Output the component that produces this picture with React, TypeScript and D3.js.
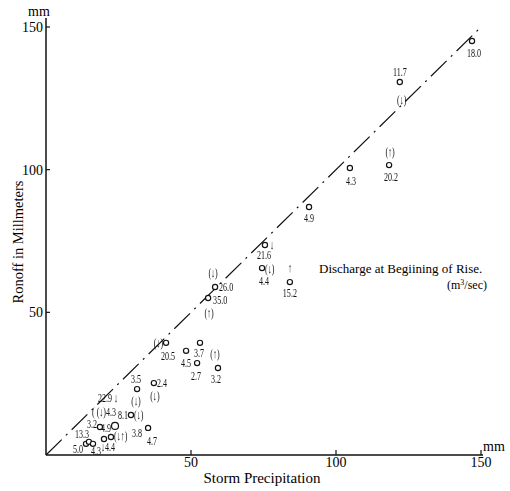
import React from 'react'
import * as d3 from 'd3'

// storm precipitation (mm) and runoff (mm)
const precip = [146.9, 122.0, 118.3, 104.8, 90.7, 75.5, 74.5, 84.1, 58.3, 55.9, 41.4, 48.3, 53.1, 52.1, 59.3, 37.2, 31.4, 29.3, 23.8, 18.6, 20.0, 22.4, 35.2, 13.8, 14.8, 16.2]
const runoff = [145.1, 130.7, 101.6, 100.6, 86.9, 73.6, 65.5, 60.6, 58.9, 55.0, 39.3, 36.5, 39.3, 32.2, 30.5, 25.2, 23.1, 14.0, 10.2, 9.8, 5.6, 6.3, 9.5, 3.9, 4.6, 3.9]

// discharge notes printed next to each point
const notes: string[][] = [
  ['18.0'], ['11.7', '(↓)'], ['(↑)', '20.2'], ['4.3'], ['4.9'],
  ['↓', '21.6'], ['(↓)', '4.4'], ['↑', '15.2'], ['(↓)', '26.0'], ['35.0', '(↑)'],
  ['(↓)', '20.5'], ['4.5'], ['3.7'], ['2.7'], ['(↑)', '3.2'],
  ['2.4', '(↓)'], ['3.5'], ['8.1', '(↓)', '(↓)'], ['22.9 ↓', '( (↓)4.3', '4.9'], ['3.2'],
  [], ['(↓↑)'], ['3.8', '4.7'], ['13.3', '5.0'], [], ['4.3', '↓4.4'],
]

const xTicks = [50, 100, 150]
const yTicks = [50, 100, 150]

// where each note sits relative to its point: dx, dy, anchor
type Anchor = 'start' | 'middle' | 'end'
const placement: [number, number, Anchor][][] = [
  [[2, 16, 'middle']],
  [[0, -6, 'middle'], [2, 22, 'middle']],
  [[1, -9, 'middle'], [2, 16, 'middle']],
  [[1, 17, 'middle']],
  [[0, 15, 'middle']],
  [[7, 4, 'middle'], [-1, 14, 'middle']],
  [[3, 5, 'start'], [2, 17, 'middle']],
  [[0, -10, 'middle'], [0, 15, 'middle']],
  [[-2, -10, 'middle'], [4, 4, 'start']],
  [[5, 6, 'start'], [1, 19, 'middle']],
  [[-3, 4, 'end'], [2, 17, 'middle']],
  [[0, 16, 'middle']],
  [[-1, 14, 'middle']],
  [[-1, 17, 'middle']],
  [[-3, -10, 'middle'], [-2, 15, 'middle']],
  [[3, 4, 'start'], [1, 17, 'middle']],
  [[-1, -6, 'middle']],
  [[-3, 4, 'end'], [3, 4, 'start'], [5, -10, 'middle']],
  [[-7, -24, 'middle'], [-11, -10, 'middle'], [-4, 6, 'end']],
  [[-3, 1, 'end']],
  [],
  [[3, 3, 'start']],
  [[-6, 9, 'end'], [4, 17, 'middle']],
  [[-4, -6, 'middle'], [-3, 9, 'end']],
  [],
  [[3, 11, 'middle'], [8, 7, 'start']],
]

const serif = '"Liberation Serif", "Times New Roman", serif'

export default function App() {
  const width = 510
  const height = 491

  const x = d3.scaleLinear().domain([0, 150]).range([46, 481])
  const y = d3.scaleLinear().domain([0, 150]).range([455, 27])

  const linePath = d3.line<number>().x(d => x(d)).y(d => y(d))([0, 149])

  return (
    <svg width={width} height={height} style={{ position: 'absolute', left: 0, top: 0, background: '#fff' }}
      fontFamily={serif}>
      {/* axes */}
      <line x1={x(0)} y1={y(0)} x2={x(0)} y2={18} stroke="#111" strokeWidth={1.5} />
      <line x1={x(0)} y1={y(0)} x2={x(150) + 2} y2={y(0)} stroke="#111" strokeWidth={1.5} />
      {yTicks.map(t => (
        <g key={'y' + t}>
          <line x1={x(0)} x2={x(0) + 4} y1={y(t)} y2={y(t)} stroke="#111" strokeWidth={1.2} />
          <text x={43} y={y(t) + 5} textAnchor="end" fontSize={14}>{t}</text>
        </g>
      ))}
      {xTicks.map(t => (
        <g key={'x' + t}>
          <line x1={x(t)} x2={x(t)} y1={y(0)} y2={y(0) - 5} stroke="#111" strokeWidth={1.2} />
          <text x={x(t)} y={467} textAnchor="middle" fontSize={14}>{t}</text>
        </g>
      ))}
      <text x={28} y={16} fontSize={14}>mm</text>
      <text x={483} y={451} fontSize={14}>mm</text>
      <text x={262} y={483} textAnchor="middle" fontSize={15}>Storm Precipitation</text>
      <text transform={`translate(23,242) rotate(-90)`} textAnchor="middle" fontSize={14.5}>Ronoff in Millmeters</text>

      {/* 1:1 line */}
      <path d={linePath ?? ''} fill="none" stroke="#111" strokeWidth={1.2} strokeDasharray="22 6 2 6" />

      {/* legend note */}
      <text x={319} y={273} fontSize={13}>Discharge at Begiining of Rise.</text>
      <text x={447} y={289} fontSize={12}>(m<tspan dy={-4} fontSize={8}>3</tspan><tspan dy={4}>/sec)</tspan></text>

      {/* points */}
      <g opacity={0.99}>
        {precip.map((p, i) => {
          const cx = x(p)
          const cy = y(runoff[i])
          return (
            <g key={i}>
              <circle cx={cx} cy={cy} r={i === 18 ? 3.5 : 2.6} fill="#fff" stroke="#111" strokeWidth={1.2} />
              {notes[i].map((n, j) => {
                const [dx, dy, a] = placement[i][j]
                return (
                  <text key={j} transform={`translate(${cx + dx},${cy + dy}) scale(0.62,1)`}
                    textAnchor={a} fontSize={13} fill="#111">{n}</text>
                )
              })}
            </g>
          )
        })}
      </g>
    </svg>
  )
}
